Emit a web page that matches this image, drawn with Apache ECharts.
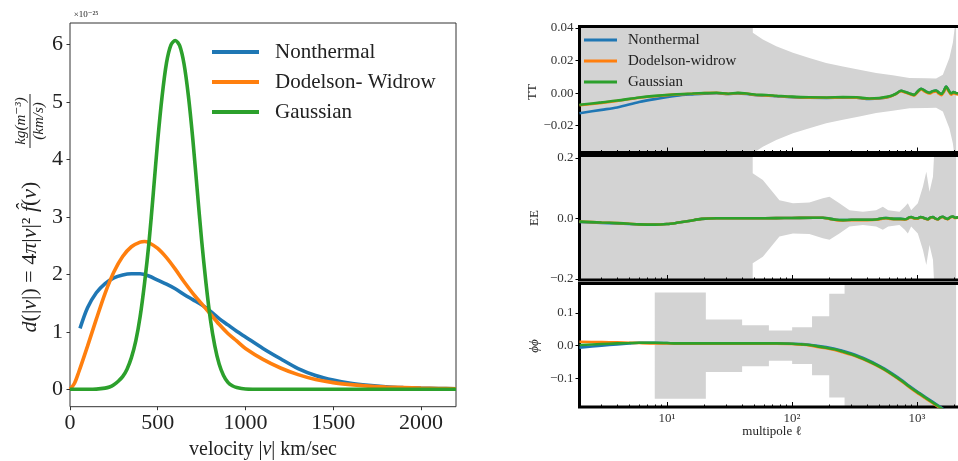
<!DOCTYPE html>
<html><head><meta charset="utf-8">
<script src="https://cdn.jsdelivr.net/npm/echarts@6/dist/echarts.min.js"></script>
<style>html,body{margin:0;padding:0;background:#fff}#c{width:958px;height:461px}</style>
</head><body><div id="c"></div>
<script>
// ---------- Left panel: velocity distributions (units of 1e-25) ----------
const vTicks = [0, 500, 1000, 1500, 2000];
const yTicksL = [0, 1, 2, 3, 4, 5, 6];
const ntV = [57,100,150,200,250,300,350,400,450,500,550,600,650,700,750,800,850,900,950,1000,1100,1200,1300,1400,1500,1600,1700,1800,1900,2000,2100,2200];
const ntY = [1.06,1.42,1.68,1.84,1.94,1.99,2.01,2.01,1.97,1.90,1.83,1.75,1.65,1.56,1.47,1.36,1.23,1.12,1.01,0.91,0.71,0.53,0.36,0.24,0.16,0.105,0.07,0.045,0.03,0.02,0.013,0.01];
const dwV = [0,25,50,100,150,200,250,300,350,400,425,450,500,550,600,650,700,750,800,850,900,950,1000,1100,1200,1300,1400,1500,1600,1700,1800,1900,2000,2100,2200];
const dwY = [0,0.1,0.3,0.75,1.22,1.67,2.04,2.31,2.48,2.56,2.57,2.55,2.45,2.29,2.09,1.87,1.67,1.49,1.31,1.13,0.97,0.84,0.71,0.52,0.37,0.255,0.17,0.115,0.08,0.055,0.04,0.03,0.02,0.014,0.01];
const gaV = [0,100,150,200,225,250,275,300,325,350,375,400,425,450,475,500,525,550,575,600,625,650,675,700,725,750,775,800,825,850,875,900,925,950,1000,1100,2200];
const gaY = [0,0,0.003,0.02,0.04,0.08,0.14,0.22,0.35,0.55,0.84,1.27,1.85,2.55,3.42,4.33,5.10,5.68,5.99,6.07,5.98,5.66,5.10,4.35,3.47,2.60,1.85,1.22,0.76,0.44,0.24,0.12,0.06,0.03,0.005,0,0];

// ---------- Right panels: residuals vs multipole ----------
const majorTicks = [10, 100, 1000];
const minorTicks = [2,3,4,5,6,7,8,9,20,30,40,50,60,70,80,90,200,300,400,500,600,700,800,900,2000];
const ttTicks = [-0.02, 0, 0.02, 0.04];
const eeTicks = [-0.2, 0, 0.2];
const ppTicks = [-0.1, 0, 0.1];

const ttEll = [2,3,4,6,8,12,16,20,25,31,37,45,52,62,75,100,138,190,256,330,417,500,604,680,748,810,873,950,1010,1082,1170,1260,1340,1425,1500,1570,1640,1715,1800,1880,1960,2050,2200];
const ttG = [-0.0072,-0.0057,-0.0046,-0.0027,-0.0017,-0.0007,-0.0003,0.0,0.0002,-0.0004,0.0001,-0.0004,-0.0010,-0.0012,-0.0016,-0.0022,-0.0026,-0.0027,-0.0025,-0.0026,-0.0033,-0.0030,-0.0020,-0.0004,0.0014,0.0006,-0.0002,-0.0011,0.0008,0.0027,0.0012,0.0002,0.0012,0.0016,0.0003,-0.0006,0.0012,0.0040,0.0016,-0.0003,0.0006,0.0001,-0.0002];
const ttD = [-0.0075,-0.0060,-0.0048,-0.0029,-0.0019,-0.0008,-0.0004,0.0,0.0001,-0.0005,0.0,-0.0005,-0.0012,-0.0014,-0.0018,-0.0024,-0.0028,-0.0029,-0.0027,-0.0028,-0.0035,-0.0032,-0.0022,-0.0006,0.0012,0.0003,-0.0005,-0.0014,0.0004,0.0022,0.0007,-0.0003,0.0006,0.0010,-0.0004,-0.0013,0.0005,0.0033,0.0009,-0.0010,-0.0001,-0.0006,-0.0009];
const ttN = [-0.0124,-0.0103,-0.0088,-0.0055,-0.0037,-0.0016,-0.0008,-0.0004,-0.0001,-0.0006,-0.0002,-0.0007,-0.0013,-0.0015,-0.0019,-0.0025,-0.0029,-0.0030,-0.0028,-0.0029,-0.0036,-0.0033,-0.0022,-0.0005,0.0014,0.0006,-0.0002,-0.0011,0.0008,0.0027,0.0012,0.0002,0.0012,0.0016,0.0003,-0.0006,0.0012,0.0040,0.0016,-0.0003,0.0006,0.0001,-0.0002];
const ttSigEll = [2,48.5,48.7,58.6,75,102,138,188,256,347,472,640,873,1187,1425,1614,1820,1942,2020,2060];
const ttSig = [1,1,0.037,0.0329,0.0288,0.0247,0.0216,0.0185,0.0164,0.0144,0.0123,0.0109,0.0093,0.0091,0.0090,0.0113,0.0216,0.031,0.042,0.08];

const eeEll = [2,3,4,5,6,8,10,12,15,19,25,35,50,75,100,150,177,200,226,256,300,400,472,530,566,620,680,740,800,830,870,900,960,1020,1070,1117,1170,1225,1285,1345,1410,1473,1540,1614,1690,1770,1850,1942,2020,2200];
const eeG = [-0.011,-0.014,-0.016,-0.018,-0.020,-0.021,-0.019,-0.015,-0.009,-0.002,0.0,0.0,0.0,0.0005,0.001,0.002,0.002,-0.001,-0.005,-0.006,-0.005,-0.005,-0.004,0.0,0.001,-0.001,-0.002,-0.002,-0.003,-0.002,0.003,0.004,0.0,0.0,0.004,0.003,-0.001,-0.003,0.003,0.004,-0.001,-0.003,0.003,0.005,0.0,-0.002,0.004,0.006,0.002,0.004];
const eeD = [-0.011,-0.014,-0.016,-0.018,-0.020,-0.021,-0.019,-0.015,-0.009,-0.002,0.0,0.0,0.0,0.0005,0.001,0.002,0.002,-0.002,-0.006,-0.007,-0.006,-0.006,-0.005,-0.001,0.0,-0.002,-0.003,-0.003,-0.004,-0.003,0.002,0.003,-0.001,-0.001,0.003,0.002,-0.002,-0.004,0.002,0.003,-0.002,-0.004,0.002,0.004,-0.001,-0.003,0.003,0.005,0.001,0.003];
const eeN = [-0.012,-0.015,-0.017,-0.019,-0.020,-0.021,-0.019,-0.015,-0.009,-0.002,0.0,0.0,0.0,0.0005,0.001,0.002,0.002,-0.001,-0.005,-0.006,-0.005,-0.005,-0.004,0.0,0.001,-0.001,-0.002,-0.002,-0.003,-0.002,0.003,0.004,0.0,0.0,0.004,0.003,-0.001,-0.003,0.003,0.004,-0.001,-0.003,0.003,0.005,0.0,-0.002,0.004,0.006,0.002,0.004];
const eeSigEll = [2,48.5,48.6,58.6,79.5,102,138,177,200,240,289,370,472,534,590,726,800,847,900,1018,1117,1190,1262,1345,1408,2060];
const eeSig = [1,1,0.149,0.127,0.060,0.050,0.052,0.066,0.071,0.050,0.027,0.022,0.027,0.038,0.027,0.022,0.038,0.050,0.027,0.050,0.104,0.154,0.088,0.137,0.3,1];

const ppEll = [2,3,4,5,6,8,10,12,16,22,30,40,55,75,100,120,138,160,188,220,256,300,347,400,472,550,640,750,873,1000,1187,1350,1517,1700];
const ppG = [0.002,0.005,0.007,0.008,0.009,0.009,0.008,0.007,0.007,0.007,0.007,0.007,0.007,0.007,0.006,0.004,0.002,-0.002,-0.006,-0.011,-0.018,-0.026,-0.035,-0.045,-0.058,-0.072,-0.088,-0.106,-0.125,-0.141,-0.160,-0.174,-0.187,-0.200];
const ppN = [-0.006,0.0,0.004,0.007,0.009,0.009,0.008,0.007,0.007,0.007,0.007,0.007,0.007,0.007,0.006,0.005,0.003,0.0,-0.004,-0.009,-0.016,-0.024,-0.033,-0.043,-0.056,-0.070,-0.086,-0.104,-0.123,-0.139,-0.158,-0.172,-0.185,-0.198];
const ppD = [0.012,0.011,0.010,0.009,0.008,0.007,0.007,0.006,0.006,0.006,0.006,0.006,0.006,0.006,0.005,0.003,0.001,-0.004,-0.008,-0.013,-0.020,-0.028,-0.037,-0.047,-0.060,-0.074,-0.090,-0.108,-0.127,-0.143,-0.162,-0.176,-0.189,-0.202];
const ppBinEdges = [8,20.5,40,65.5,100.5,145,199,264,2060];
const ppBinSig = [0.162,0.080,0.0625,0.046,0.056,0.090,0.158,1];

// ---------- build ----------
const L = Math.log10;
const SERIF = '"Liberation Serif", "DejaVu Serif", serif';
const COL = ['#1f77b4', '#ff7f0e', '#2ca02c'];
const zip = (xs, ys, f) => xs.map((x, i) => [f ? f(x) : x, ys[i]]);
const sup = {1: '¹', 2: '²', 3: '³'};
const XMIN = L(2), XMAX = L(2500);
const RW = 125 * (XMAX - XMIN);

const chart = echarts.init(document.getElementById('c'));

const gbase = {show: true, backgroundColor: 'transparent', z: 2, outerBoundsMode: 'none', containLabel: false};
const grids = [
  Object.assign({left: 70, width: 386, top: 23, height: 383.7, borderColor: '#333', borderWidth: 1}, gbase),
  Object.assign({left: 579.5, width: RW, top: 26.5, height: 126, borderColor: '#000', borderWidth: 3}, gbase),
  Object.assign({left: 579.5, width: RW, top: 155.5, height: 124.5, borderColor: '#000', borderWidth: 3}, gbase),
  Object.assign({left: 579.5, width: RW, top: 283.5, height: 123.5, borderColor: '#000', borderWidth: 3}, gbase)
];

const xAxes = [
  {gridIndex: 0, type: 'value', min: 0, max: 2200, axisLine: {show: false, onZero: false}, splitLine: {show: false},
   axisTick: {show: true, length: 3.5, customValues: vTicks, lineStyle: {color: '#333'}},
   axisLabel: {customValues: vTicks, formatter: v => String(v), fontSize: 22, fontFamily: SERIF, color: '#222', margin: 6}, z: 4}
];
[1, 2, 3].forEach(g => {
  xAxes.push({gridIndex: g, type: 'value', min: XMIN, max: XMAX, position: 'bottom', axisLine: {show: false, onZero: false}, splitLine: {show: false},
    axisTick: {show: true, inside: true, length: 5, customValues: majorTicks.map(L), lineStyle: {color: '#000'}},
    axisLabel: {show: g === 3, customValues: majorTicks.map(L), formatter: v => '10' + sup[Math.round(v)],
      fontSize: 13, fontFamily: SERIF, color: '#333', margin: 5}, z: 4});
  xAxes.push({gridIndex: g, type: 'value', min: XMIN, max: XMAX, position: 'bottom', axisLine: {show: false, onZero: false}, splitLine: {show: false},
    axisTick: {show: true, inside: true, length: 2.5, customValues: minorTicks.map(L), lineStyle: {color: '#000'}},
    axisLabel: {show: false}, z: 4});
});

const fmt = d => v => (v < 0 ? '\u2212' : '') + Math.abs(v).toFixed(d);
const yAx = (g, min, max, ticks, f) => ({gridIndex: g, type: 'value', min: min, max: max, axisLine: {show: false, onZero: false}, splitLine: {show: false},
  axisTick: {show: true, length: 4, customValues: ticks, lineStyle: {color: '#000'}},
  axisLabel: {customValues: ticks, formatter: f, fontSize: 13, fontFamily: SERIF, color: '#333', margin: 6}, z: 4});
const yAxes = [
  {gridIndex: 0, type: 'value', min: -0.3035, max: 6.3735, axisLine: {show: false, onZero: false}, splitLine: {show: false},
   axisTick: {show: true, length: 3.5, customValues: yTicksL, lineStyle: {color: '#333'}},
   axisLabel: {customValues: yTicksL, fontSize: 22, fontFamily: SERIF, color: '#222', margin: 7}, z: 4},
  yAx(1, -0.0365, 0.0409, ttTicks, fmt(2)),
  yAx(2, -0.204, 0.2076, eeTicks, fmt(1)),
  yAx(3, -0.1869, 0.1896, ppTicks, fmt(1))
];

function band(xi, yi, ells, sig) {
  const up = ells.map((e, i) => [L(e), sig[i]]);
  const lo = ells.map((e, i) => [L(e), -sig[i]]).reverse();
  const pts = up.concat(lo);
  return {type: 'custom', xAxisIndex: xi, yAxisIndex: yi, clip: true, silent: true, z: 1,
    data: [[1.5, 0]],
    renderItem: (p, api) => ({type: 'polygon', shape: {points: pts.map(q => api.coord(q))}, style: {fill: '#d3d3d3'}})};
}
const ppBandEll = [], ppBandSig = [];
ppBinSig.forEach((s, i) => { ppBandEll.push(ppBinEdges[i], ppBinEdges[i + 1]); ppBandSig.push(s, s); });

const lineS = (name, xi, yi, data, c, w) => ({type: 'line', name: name, xAxisIndex: xi, yAxisIndex: yi, data: data,
  showSymbol: false, smooth: 0.3, clip: true, z: 3, lineStyle: {width: w, color: c}, itemStyle: {color: c}, emphasis: {disabled: true}});

const series = [
  lineS('Nonthermal', 0, 0, zip(ntV, ntY), COL[0], 3.6),
  lineS('Dodelson- Widrow', 0, 0, zip(dwV, dwY), COL[1], 3.6),
  lineS('Gaussian', 0, 0, zip(gaV, gaY), COL[2], 3.6),
  band(1, 1, ttSigEll, ttSig),
  band(3, 2, eeSigEll, eeSig),
  band(5, 3, ppBandEll, ppBandSig),
  lineS('Nonthermal', 1, 1, zip(ttEll, ttN, L), COL[0], 2.6),
  lineS('Dodelson-widrow', 1, 1, zip(ttEll, ttD, L), COL[1], 2.6),
  lineS('Gaussian', 1, 1, zip(ttEll, ttG, L), COL[2], 2.6),
  lineS('Nonthermal', 3, 2, zip(eeEll, eeN, L), COL[0], 2.6),
  lineS('Dodelson-widrow', 3, 2, zip(eeEll, eeD, L), COL[1], 2.6),
  lineS('Gaussian', 3, 2, zip(eeEll, eeG, L), COL[2], 2.6),
  lineS('Nonthermal', 5, 3, zip(ppEll, ppN, L), COL[0], 2.6),
  lineS('Dodelson-widrow', 5, 3, zip(ppEll, ppD, L), COL[1], 2.6),
  lineS('Gaussian', 5, 3, zip(ppEll, ppG, L), COL[2], 2.6)
];

const txt = (x, y, text, font, rot, extra) => Object.assign({type: 'text', x: x, y: y, rotation: rot || 0, silent: true, z: 10,
  style: Object.assign({text: text, font: font, fill: '#222', align: 'center', verticalAlign: 'middle', textAlign: 'center', textVerticalAlign: 'middle'}, extra || {})});
const richMath = sz => ({ i: {fontStyle: 'italic', fontSize: sz, fontFamily: SERIF} });

chart.setOption({
  animation: false,
  backgroundColor: '#fff',
  grid: grids,
  xAxis: xAxes,
  yAxis: yAxes,
  legend: [
    {data: ['Nonthermal', 'Dodelson- Widrow', 'Gaussian'], orient: 'vertical', left: 212, top: 41.5, padding: 0,
     itemWidth: 47, itemHeight: 4, icon: 'rect', itemGap: 9, selectedMode: false,
     textStyle: {fontSize: 21, fontFamily: SERIF, color: '#222', padding: [0, 0, 0, 11]}},
    {data: ['Nonthermal', 'Dodelson-widrow', 'Gaussian'], orient: 'vertical', left: 584, top: 32.5, padding: 0,
     itemWidth: 33, itemHeight: 3, icon: 'rect', itemGap: 6, selectedMode: false,
     textStyle: {fontSize: 15, fontFamily: SERIF, color: '#222', padding: [0, 0, 0, 6]}}
  ],
  series: series,
  graphic: [
    txt(86, 15, '×10⁻²⁵', '9px ' + SERIF),
    txt(263, 450, 'velocity |{i|v}| km/sec', '20px ' + SERIF, 0, {rich: richMath(20)}),
    txt(30, 257, '{i|d}(|{i|v}|) = 4{i|π}|{i|v}|² {i|f\u0302}({i|v})', '22px ' + SERIF, Math.PI / 2,
      {rich: richMath(22)}),
    txt(21, 121, 'kg(m⁻³)', 'italic 15px ' + SERIF, Math.PI / 2),
    txt(39, 121, '(km/s)', 'italic 15px ' + SERIF, Math.PI / 2),
    {type: 'line', silent: true, z: 10, shape: {x1: 30, y1: 94, x2: 30, y2: 148}, style: {stroke: '#222', lineWidth: 1}},
    txt(533, 92, 'TT', '13px ' + SERIF, Math.PI / 2),
    txt(535, 218, 'EE', '13px ' + SERIF, Math.PI / 2),
    txt(535, 346, 'ϕϕ', 'italic 13px ' + SERIF, Math.PI / 2),
    txt(772, 432, 'multipole ℓ', '13px ' + SERIF)
  ]
});
</script>
</body></html>
